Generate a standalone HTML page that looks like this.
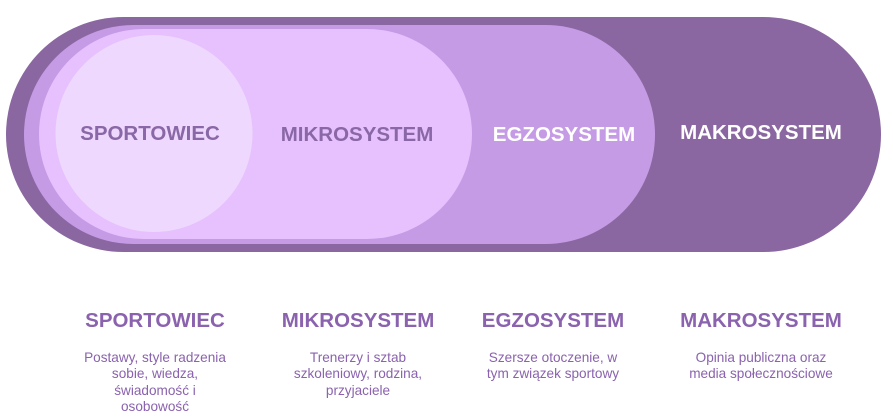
<!DOCTYPE html>
<html><head><meta charset="utf-8"><style>
html,body{margin:0;padding:0;background:#fff;width:893px;height:420px;overflow:hidden}
svg{display:block}
text{font-family:"Liberation Sans",sans-serif;text-anchor:middle}
.t{font-weight:bold;font-size:20.5px}
.h{font-weight:bold;font-size:20.5px;fill:#8a62ae}
.d{font-size:13.6px;fill:#8a62ae}
</style></head><body>
<svg width="893" height="420" viewBox="0 0 893 420">
<rect x="6" y="17" width="875" height="235" rx="117.5" fill="#8a67a1"/>
<rect x="24" y="25" width="631" height="219" rx="109.5" fill="#c59be6"/>
<rect x="39" y="29" width="433" height="210" rx="105" fill="#e6c1fd"/>
<circle cx="154" cy="133.5" r="98.5" fill="#eed8fe"/>
<text class="t" x="150" y="140" fill="#8a67a6">SPORTOWIEC</text>
<text class="t" x="357" y="141" fill="#8a67a6">MIKROSYSTEM</text>
<text class="t" x="564" y="141" fill="#ffffff">EGZOSYSTEM</text>
<text class="t" x="761" y="139" fill="#ffffff">MAKROSYSTEM</text>
<text class="h" x="155" y="327">SPORTOWIEC</text>
<text class="h" x="358" y="327">MIKROSYSTEM</text>
<text class="h" x="553" y="327">EGZOSYSTEM</text>
<text class="h" x="761" y="327">MAKROSYSTEM</text>
<text class="d" x="155" y="362">Postawy, style radzenia</text>
<text class="d" x="155" y="378">sobie, wiedza,</text>
<text class="d" x="155" y="395">świadomość i</text>
<text class="d" x="155" y="411">osobowość</text>
<text class="d" x="358" y="362">Trenerzy i sztab</text>
<text class="d" x="358" y="378">szkoleniowy, rodzina,</text>
<text class="d" x="358" y="395">przyjaciele</text>
<text class="d" x="553" y="362">Szersze otoczenie, w</text>
<text class="d" x="553" y="378">tym związek sportowy</text>
<text class="d" x="761" y="362">Opinia publiczna oraz</text>
<text class="d" x="761" y="378">media społecznościowe</text>
</svg>
</body></html>
